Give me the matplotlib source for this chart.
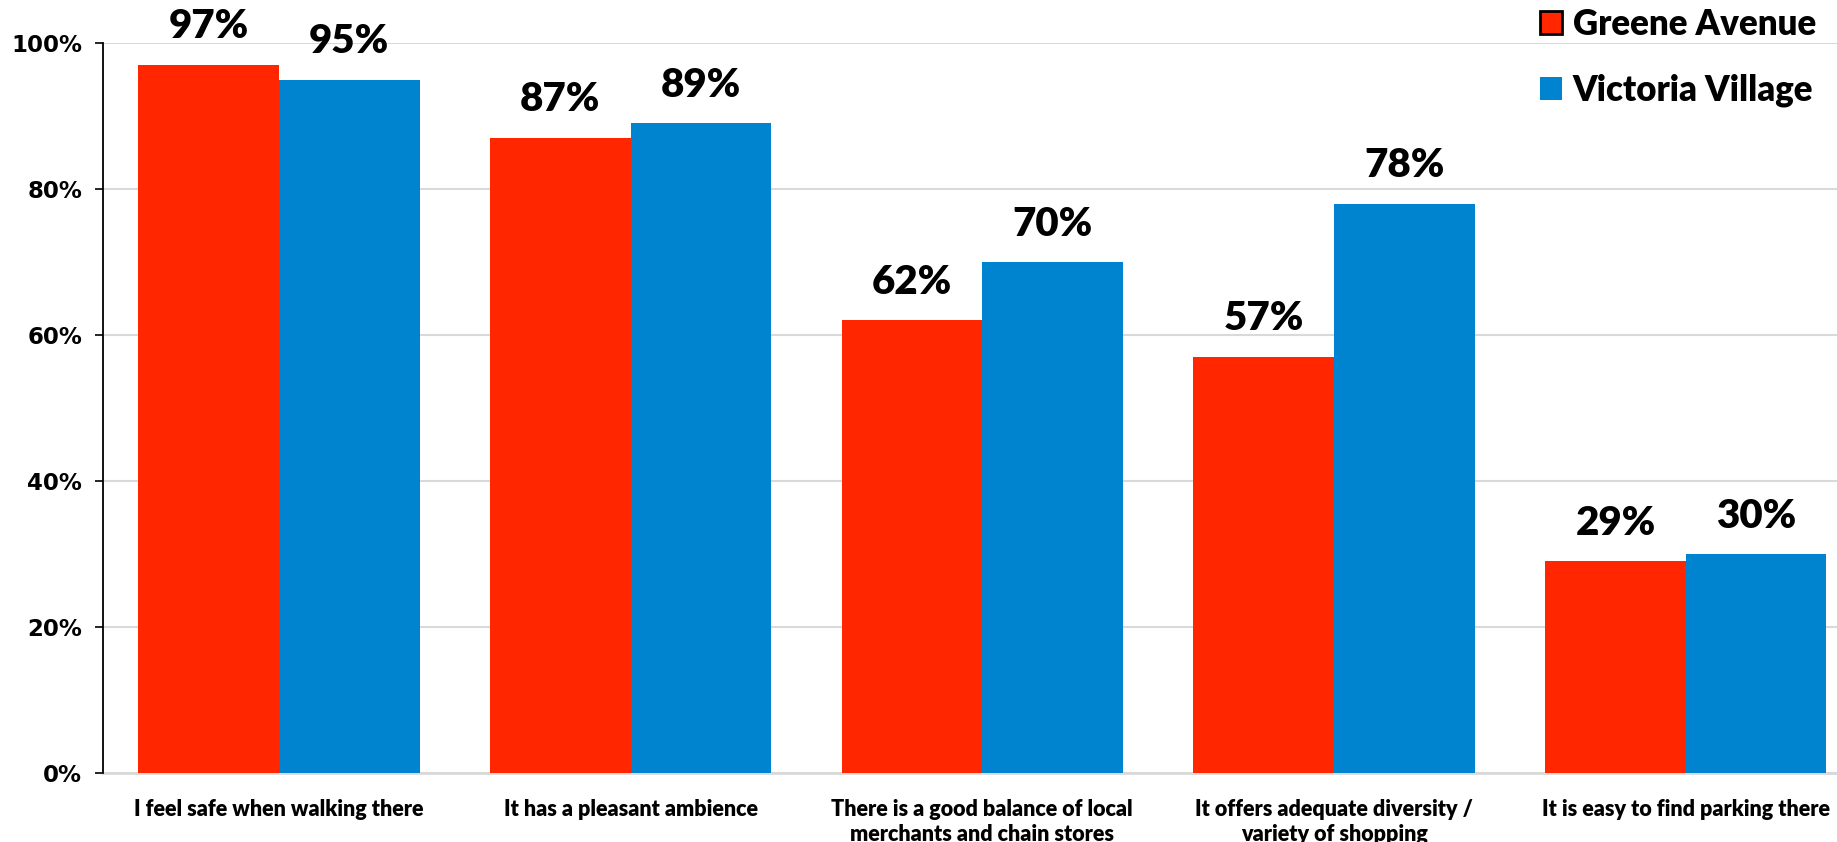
import matplotlib.pyplot as plt
from matplotlib.patches import Patch
import numpy as np

categories = [
    "I feel safe when walking there",
    "It has a pleasant ambience",
    "There is a good balance of local\nmerchants and chain stores",
    "It offers adequate diversity /\nvariety of shopping",
    "It is easy to find parking there",
]
greene = [97, 87, 62, 57, 29]
victoria = [95, 89, 70, 78, 30]
yticks = [0, 20, 40, 60, 80, 100]

RED = "#ff2600"
BLUE = "#0084cf"
GRID = "#d9d9d9"
LABEL_FONT = "Lato"
WEIGHT = "heavy"

fig = plt.figure(figsize=(18.37, 8.42), dpi=100)
ax = fig.add_axes([103 / 1837, 69 / 842, 1 - 103 / 1837, 730 / 842])

x = np.arange(len(categories))
w = 0.4
b1 = ax.bar(x - w / 2, greene, w, color=RED, zorder=3)
b2 = ax.bar(x + w / 2, victoria, w, color=BLUE, zorder=3)

for bars, vals in ((b1, greene), (b2, victoria)):
    for bar, v in zip(bars, vals):
        ax.annotate(f"{v}%", (bar.get_x() + bar.get_width() / 2, v),
                    xytext=(0, 14), textcoords="offset points",
                    ha="center", va="bottom", fontsize=29,
                    fontweight=WEIGHT, family=LABEL_FONT, zorder=5,
                    annotation_clip=False)

ax.set_ylim(0, 100)
ax.set_xlim(-0.5, 4.43)
ax.set_yticks(yticks)
ax.set_yticklabels([f"{t}%" for t in yticks], fontsize=16.5,
                   fontweight="bold", family="DejaVu Sans")
ax.set_xticks(x)
ax.set_xticklabels(categories, fontsize=15.5, fontweight=WEIGHT,
                   family=LABEL_FONT, linespacing=1.2, va="top")
ax.tick_params(axis="x", length=0, pad=19)
ax.tick_params(axis="y", length=6, width=1.2, pad=9)

ax.grid(axis="y", color=GRID, linewidth=1.5, zorder=0)
for s in ("top", "right"):
    ax.spines[s].set_visible(False)
ax.spines["left"].set_linewidth(1.3)
ax.spines["left"].set_zorder(4)
ax.spines["bottom"].set_color(GRID)
ax.spines["bottom"].set_linewidth(2)

handles = [Patch(facecolor=RED, edgecolor="black", linewidth=2),
           Patch(facecolor=BLUE, edgecolor="none")]
fig.legend(handles, ["Greene Avenue", "Victoria Village"],
           loc="upper right", bbox_to_anchor=(1816 / 1837, 1 - 8 / 842),
           frameon=False, borderpad=0, borderaxespad=0,
           handlelength=0.63, handleheight=0.63, handletextpad=0.3,
           labelspacing=0.95,
           prop={"family": LABEL_FONT, "weight": WEIGHT, "size": 25})

fig.savefig("out.png", dpi=100)
